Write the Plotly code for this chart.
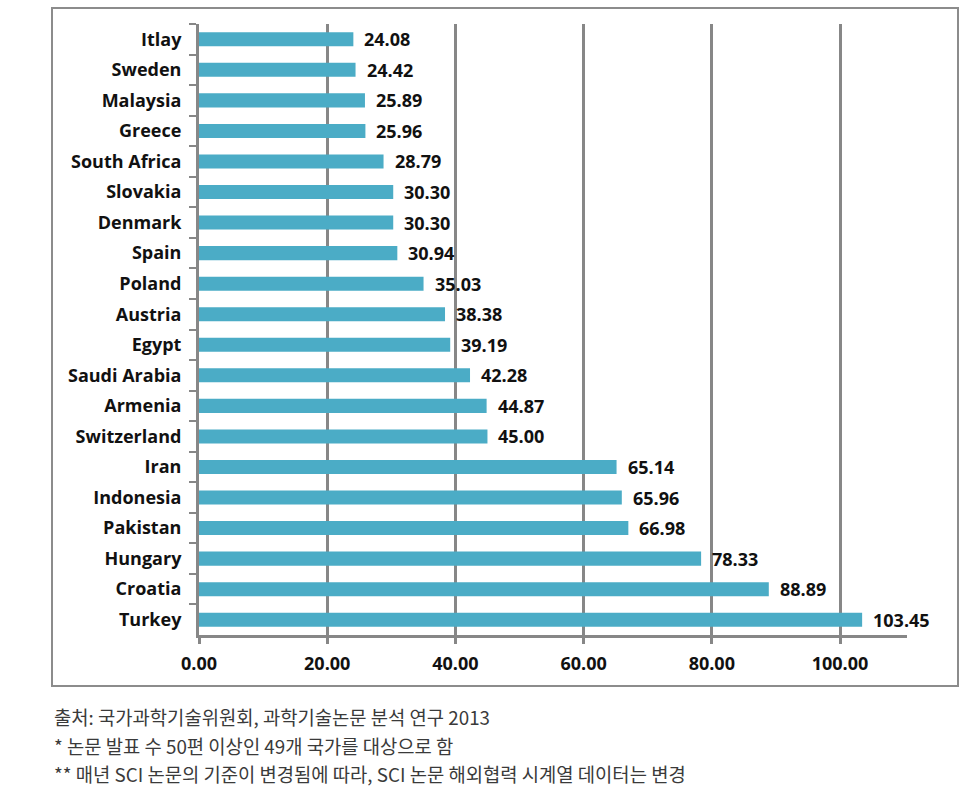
import plotly.graph_objects as go

countries = ["Itlay", "Sweden", "Malaysia", "Greece", "South Africa", "Slovakia",
             "Denmark", "Spain", "Poland", "Austria", "Egypt", "Saudi Arabia",
             "Armenia", "Switzerland", "Iran", "Indonesia", "Pakistan", "Hungary",
             "Croatia", "Turkey"]
values = [24.08, 24.42, 25.89, 25.96, 28.79, 30.30, 30.30, 30.94, 35.03, 38.38,
          39.19, 42.28, 44.87, 45.00, 65.14, 65.96, 66.98, 78.33, 88.89, 103.45]
x_ticks = [0, 20, 40, 60, 80, 100]
notes = ["출처: 국가과학기술위원회, 과학기술논문 분석 연구 2013",
         "* 논문 발표 수 50편 이상인 49개 국가를 대상으로 함",
         "** 매년 SCI 논문의 기준이 변경됨에 따라, SCI 논문 해외협력 시계열 데이터는 변경"]

W, H = 966, 795
L, R, T, B = 199, 907, 24, 635
pw, ph = R - L, B - T

def px_x(p):
    return (p - L) / pw

def px_y(p):
    return (B - p) / ph

FONT = "Open Sans"
GRAY = "#878787"

fig = go.Figure()
fig.add_trace(go.Bar(
    x=values, y=countries, orientation="h",
    marker=dict(color="#4BACC6", line=dict(width=0)),
    width=0.46,
    hoverinfo="x+y",
))

annotations = []
for c, v in zip(countries, values):
    annotations.append(dict(
        x=v, y=c, xref="x", yref="y", text=f"<b>{v:.2f}</b>",
        showarrow=False, xanchor="left", yanchor="middle", xshift=9,
        font=dict(family=FONT, size=18, color="#111111"),
    ))

note_y = [716, 745, 773]
for t, yy in zip(notes, note_y):
    annotations.append(dict(
        x=px_x(52), y=px_y(yy), xref="paper", yref="paper", text=t,
        showarrow=False, xanchor="left", yanchor="middle",
        font=dict(family="Noto Sans CJK KR", size=18.8, color="#3a3a3a"),
    ))

fig.update_layout(
    width=W, height=H,
    margin=dict(l=L, r=W - R, t=T, b=H - B, pad=0),
    paper_bgcolor="white", plot_bgcolor="white",
    showlegend=False,
    bargap=0.54,
    annotations=annotations,
    shapes=[dict(type="rect", xref="paper", yref="paper",
                 x0=px_x(52), x1=px_x(958), y0=px_y(686), y1=px_y(8),
                 line=dict(color="#8c8c8c", width=2), fillcolor="rgba(0,0,0,0)",
                 layer="below")],
    xaxis=dict(
        range=[0, 110.45], tickvals=x_ticks, ticktext=[f"{v:.2f}" for v in x_ticks],
        showgrid=True, gridcolor=GRAY, gridwidth=3,
        showline=True, linecolor=GRAY, linewidth=3,
        ticks="outside", ticklen=6, tickwidth=3, tickcolor=GRAY,
        ticklabelstandoff=4,
        tickfont=dict(family=FONT, size=18, color="#111111", weight="bold"),
        zeroline=False, fixedrange=True,
    ),
    yaxis=dict(
        categoryorder="array", categoryarray=countries, autorange="reversed",
        showgrid=False, showline=True, linecolor=GRAY, linewidth=3,
        ticks="outside", ticklen=7, tickwidth=2, tickcolor=GRAY,
        tickson="boundaries",
        ticklabelstandoff=11,
        tickfont=dict(family=FONT, size=18, color="#111111", weight="bold"),
        zeroline=False, fixedrange=True,
    ),
)

fig.write_html("out.html")
